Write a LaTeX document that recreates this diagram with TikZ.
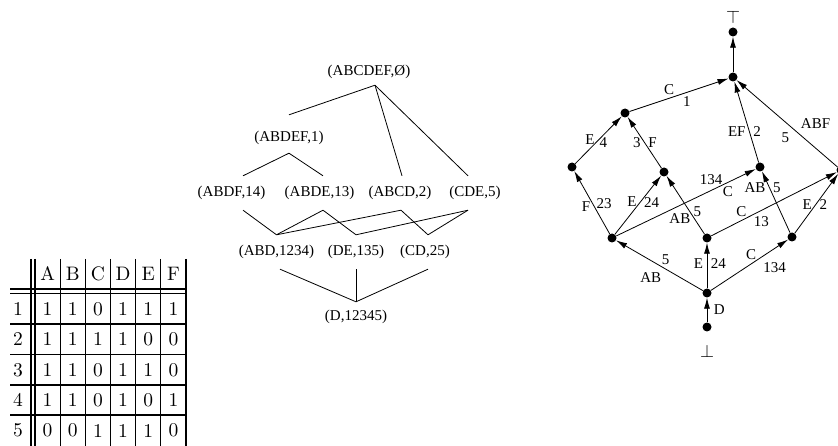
\documentclass[tikz,border=0pt]{standalone}
\usepackage{fontspec}
\usepackage{tikz}
\usetikzlibrary{arrows.meta}
\newfontfamily\timesfont{Liberation Serif}
\tikzstyle{dot} = [circle, fill, inner sep=0pt, minimum size=9pt]
\tikzstyle{concept} = [inner sep=0pt, minimum height=34pt,
    font=\timesfont\fontsize{15}{15}\selectfont]
\tikzstyle{lbl} = [inner sep=3.5pt, font=\timesfont\fontsize{15}{15}\selectfont]
\tikzstyle{cell} = [inner sep=0pt, font=\fontsize{10}{12}\selectfont, scale=1.95, transform shape]
\tikzstyle{sym} = [inner sep=0pt, scale=1.8, transform shape]
\tikzstyle{line} = [draw, line width=0.8pt, -{Latex[length=11pt,width=6pt]}]
\tikzstyle{cover} = [draw, line width=0.8pt]
\tikzstyle{tabrule} = [draw, line width=1.3pt]

\begin{document}
\begin{tikzpicture}[x=1pt, y=-1pt]
        \useasboundingbox (0,0) rectangle (838,446);
        % context table
        \foreach \h [count=\c] in {A,B,C,D,E,F}
            \node [cell] (h-\c) at (22.4+25.17*\c, 274) {\h};
        \foreach \row [count=\r] in {{1,1,0,1,1,1},{1,1,1,1,0,0},{1,1,0,1,1,0},{1,1,0,1,0,1},{0,0,1,1,1,0}} {
            \node [cell] (o-\r) at (18, 278.6+30.4*\r) {\r};
            \foreach \v [count=\c] in \row
                \node [cell] (t-\r-\c) at (22.4+25.17*\c, 278.6+30.4*\r) {\v};
        }
        \foreach \x in {31,35,60.2,85.3,110.5,135.7,160.8,186}
            \path [tabrule] (\x,259) -- (\x,447);
        \foreach \y in {289,293.5,324,354.5,385,415}
            \path [tabrule] (10,\y) -- (186,\y);
        % concept lattice
        \node [concept] (full) at (369,72) {(ABCDEF,Ø)};
        \node [concept] (abdef) at (289,138) {(ABDEF,1)};
        \node [concept] (abdf) at (231.5,193) {(ABDF,14)};
        \node [concept] (abde) at (319.5,193) {(ABDE,13)};
        \node [concept] (abcd) at (400,193) {(ABCD,2)};
        \node [concept] (cde) at (475,193) {(CDE,5)};
        \node [concept] (abd) at (276.5,252) {(ABD,1234)};
        \node [concept] (de) at (356,252) {(DE,135)};
        \node [concept] (cd) at (425,252) {(CD,25)};
        \node [concept] (d) at (356,317) {(D,12345)};
        \path [cover] ([xshift=6pt,yshift=4pt]full.south) -- ([yshift=6pt]abdef.north);
        \path [cover] ([xshift=6pt,yshift=4pt]full.south) -- ([xshift=2pt]abcd.north);
        \path [cover] ([xshift=6pt,yshift=4pt]full.south) -- ([xshift=-7pt]cde.north);
        \path [cover] ([yshift=2pt]abdef.south) -- ([xshift=11.5pt]abdf.north);
        \path [cover] ([yshift=2pt]abdef.south) -- ([xshift=3.5pt]abde.north);
        \path [cover] ([xshift=11.5pt]abdf.south) -- (abd.north);
        \path [cover] ([xshift=3.5pt]abde.south) -- (abd.north);
        \path [cover] ([xshift=1pt]abcd.south) -- (abd.north);
        \path [cover] ([xshift=3.5pt]abde.south) -- (de.north);
        \path [cover] ([xshift=-7pt]cde.south) -- (de.north);
        \path [cover] ([xshift=1pt]abcd.south) -- ([xshift=3pt]cd.north);
        \path [cover] ([xshift=-7pt]cde.south) -- ([xshift=3pt]cd.north);
        \path [cover] ([xshift=3.5pt]abd.south) -- ([yshift=-2pt]d.north);
        \path [cover] (de.south) -- ([yshift=-2pt]d.north);
        \path [cover] ([xshift=3pt]cd.south) -- ([yshift=-2pt]d.north);
        % order diagram
        \node [sym] (tsym) at (733,17) {$\top$};
        \node [dot] (tdot) at (733,32) {};
        \node [dot] (root) at (733,77) {};
        \node [dot] (nc) at (625,113) {};
        \node [dot] (nl) at (572,167) {};
        \node [dot] (nf) at (664,172) {};
        \node [dot] (nef) at (760,167) {};
        \node [dot] (nr) at (841,170) {};
        \node [dot] (nabd) at (612,238) {};
        \node [dot] (nde) at (707,238) {};
        \node [dot] (ncd) at (792,237) {};
        \node [dot] (nd) at (707,293) {};
        \node [dot] (bdot) at (707,327) {};
        \node [sym] (bsym) at (707,351) {$\bot$};
        % edges
        \path [line] (root) -- (tdot);
        \path [line] (nc) -- node[lbl, pos=.4, above] {C} node[lbl, pos=.58, below] {1} (root);
        \path [line] (nl) -- node[lbl, pos=.5, left] {E} node[lbl, pos=.44, right] {4} (nc);
        \path [line] (nf) -- node[lbl, pos=.5, left] {3} node[lbl, pos=.5, right] {F} (nc);
        \path [line] (nef) -- node[lbl, pos=.38, left] {EF} node[lbl, pos=.38, right] {2} (root);
        \path [line] (nr) -- node[lbl, pos=.44, below left] {5} node[lbl, pos=.4, above right] {ABF} (root);
        \path [line] (nabd) -- node[lbl, pos=.44, left] {F} node[lbl, pos=.48, right] {23} (nl);
        \path [line] (nabd) -- node[lbl, pos=.55, left] {E} node[lbl, pos=.55, right] {24} (nf);
        \path [line] (nabd) -- node[lbl, pos=.68, above=2pt] {134} node[lbl, pos=.8, below] {C} (nef);
        \path [line] (nde) -- node[lbl, pos=.27, left] {AB} node[lbl, pos=.39, right] {5} (nf);
        \path [line] (nde) -- node[lbl, pos=.24, above] {C} node[lbl, pos=.4, below=2pt] {13} (nr);
        \path [line] (ncd) -- node[lbl, pos=.74, left] {AB} node[lbl, pos=.74, right] {5} (nef);
        \path [line] (ncd) -- node[lbl, pos=.48, left] {E} node[lbl, pos=.48, right] {2} (nr);
        \path [line] (nd) -- node[lbl, pos=.43, above] {5} node[lbl, pos=.6, below=8pt] {AB} (nabd);
        \path [line] (nd) -- node[lbl, pos=.55, left] {E} node[lbl, pos=.55, right] {24} (nde);
        \path [line] (nd) -- node[lbl, pos=.52, above] {C} node[lbl, pos=.63, below right] {134} (ncd);
        \path [line] (bdot) -- node[lbl, right=3pt] {D} (nd);
    \end{tikzpicture}
\end{document}
